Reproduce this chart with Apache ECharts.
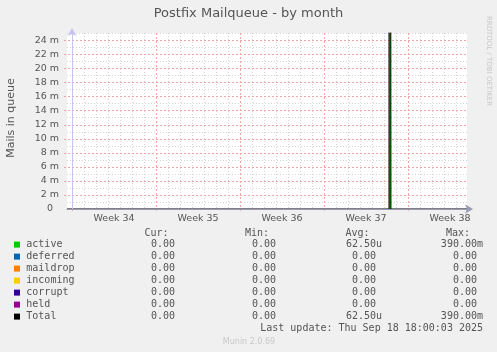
<!DOCTYPE html>
<html><head><meta charset="utf-8">
<script src="https://cdn.jsdelivr.net/npm/echarts@6/dist/echarts.min.js"></script>
<style>html,body{margin:0;padding:0;background:#f0f0f0;}#c{width:497px;height:352px;}</style>
</head><body><div id="c"></div>
<script>
// ---- data ----
const weekLabels = ['Week 34', 'Week 35', 'Week 36', 'Week 37', 'Week 38'];
const weekStarts = [0, 7, 14, 21, 28];          // day offsets of week boundaries
const weekCenters = [3.5, 10.5, 17.5, 24.5, 31.5];
const dayLines = [1,2,3,4,5,6,8,9,10,11,12,13,15,16,17,18,19,20,22,23,24,25,26,27,29,30,31,32];
const xRange = [-0.42, 32.92];                  // days, relative to start of Week 34
const yMajor = [0, 0.002, 0.004, 0.006, 0.008, 0.010, 0.012, 0.014, 0.016, 0.018, 0.020, 0.022, 0.024];
const yMinor = [0.001, 0.003, 0.005, 0.007, 0.009, 0.011, 0.013, 0.015, 0.017, 0.019, 0.021, 0.023, 0.025];
const yRange = [0, 0.025];

const activeData   = [[-0.42, 0], [26.42, 0.39], [26.58, 0], [32.92, 0]];
const deferredData = [[-0.42, 0], [32.92, 0]];
const maildropData = [[-0.42, 0], [32.92, 0]];
const incomingData = [[-0.42, 0], [32.92, 0]];
const corruptData  = [[-0.42, 0], [32.92, 0]];
const heldData     = [[-0.42, 0], [32.92, 0]];
const totalData    = [[-0.42, 0], [26.42, 0.39], [26.58, 0], [32.92, 0]];

const legendNames  = ['active', 'deferred', 'maildrop', 'incoming', 'corrupt', 'held', 'Total'];
const legendColors = ['#00cc00', '#0066b3', '#ff8000', '#ffcc00', '#330099', '#990099', '#000000'];
const curValues = ['0.00 ', '0.00 ', '0.00 ', '0.00 ', '0.00 ', '0.00 ', '0.00 '];
const minValues = ['0.00 ', '0.00 ', '0.00 ', '0.00 ', '0.00 ', '0.00 ', '0.00 '];
const avgValues = ['62.50u', '0.00 ', '0.00 ', '0.00 ', '0.00 ', '0.00 ', '62.50u'];
const maxValues = ['390.00m', '0.00 ', '0.00 ', '0.00 ', '0.00 ', '0.00 ', '390.00m'];
const colHeaders = ['Cur:', 'Min:', 'Avg:', 'Max:'];
const lastUpdate = 'Last update: Thu Sep 18 18:00:03 2025';

// ---- chart ----
const chart = echarts.init(document.getElementById('c'), null, {renderer: 'canvas'});
const SANS = 'DejaVu Sans';
const MONO = 'DejaVu Sans Mono';
const TXT = '#555555';
const GRAY_GRID = '#d4d4d4';
const RED_GRID = '#f2a6a6';

// grid line items: [value, kind] kind 0 = minor (gray dotted), 1 = major (red dashed)
const vGrid = dayLines.map(d => [d, 0]).concat(weekStarts.map(d => [d, 1]));
const hGrid = yMinor.map(v => [v, 0]).concat(yMajor.slice(1).map(v => [v, 1]));

function vGridSeries() {
  return {
    type: 'custom', silent: true, z: 1, clip: false, data: vGrid,
    encode: {x: 0},
    renderItem: function (params, api) {
      const v = api.value(0), kind = api.value(1);
      const b = api.coord([v, yRange[0]]), t = api.coord([v, yRange[1]]);
      const x = Math.round(b[0]) + 0.5;
      return {type: 'line', silent: true,
        shape: {x1: x, y1: Math.round(t[1]), x2: x, y2: Math.round(b[1]) + (kind ? 3 : 0)},
        style: {stroke: kind ? RED_GRID : GRAY_GRID, lineWidth: 1, lineDash: kind ? [2, 2] : [1, 2]}};
    }
  };
}
function hGridSeries() {
  return {
    type: 'custom', silent: true, z: 1, clip: false, data: hGrid.map(h => [xRange[0], h[0], h[1]]),
    encode: {x: 0, y: 1},
    renderItem: function (params, api) {
      const v = api.value(1), kind = api.value(2);
      const l = api.coord([xRange[0], v]), r = api.coord([xRange[1], v]);
      const y = Math.round(l[1]) + 0.5;
      return {type: 'line', silent: true,
        shape: {x1: Math.round(l[0]) - (kind ? 3 : 0), y1: y, x2: Math.round(r[0]), y2: y},
        style: {stroke: kind ? RED_GRID : GRAY_GRID, lineWidth: 1, lineDash: kind ? [2, 2] : [1, 2]}};
    }
  };
}

function lineSeries(name, data, color, area) {
  const s = {
    name: name, type: 'line', data: data, step: 'end', showSymbol: false, symbol: 'none',
    stack: area ? 'q' : undefined, clip: true, z: area ? 2 : 3,
    lineStyle: {color: color, width: area ? 0 : 1}, itemStyle: {color: color}
  };
  if (area) s.areaStyle = {color: color, opacity: 1};
  return s;
}

const graphics = [];
graphics.push({type: 'text', left: 'center', top: 7, style: {text: 'Postfix Mailqueue - by month', font: '13px ' + SANS, fill: TXT}});
graphics.push({type: 'text', x: 11, y: 118, rotation: Math.PI / 2, style: {text: 'Mails in queue', font: '11px ' + SANS, fill: TXT, align: 'center', verticalAlign: 'middle'}});
graphics.push({type: 'text', x: 489, y: 61, rotation: -Math.PI / 2, style: {text: 'RRDTOOL / TOBI OETIKER', font: '7px ' + SANS, fill: '#c8c8c8', align: 'center', verticalAlign: 'middle'}});
const headerRight = [168.5, 269, 369.5, 470];
colHeaders.forEach((h, i) => graphics.push({type: 'text', x: headerRight[i], y: 233, style: {text: h, font: '10px ' + MONO, fill: TXT, align: 'right', verticalAlign: 'middle'}}));
const colRight = [181, 282, 382, 483];
legendNames.forEach((n, i) => {
  const y = 244.6 + i * 12;
  graphics.push({type: 'rect', shape: {x: 14, y: y - 3, width: 6, height: 6}, style: {fill: legendColors[i]}});
  graphics.push({type: 'text', x: 26.3, y: y, style: {text: n, font: '10px ' + MONO, fill: TXT, align: 'left', verticalAlign: 'middle'}});
  [curValues, minValues, avgValues, maxValues].forEach((arr, j) => {
    graphics.push({type: 'text', x: colRight[j], y: y, style: {text: arr[i], font: '10px ' + MONO, fill: TXT, align: 'right', verticalAlign: 'middle'}});
  });
});
graphics.push({type: 'text', x: 483, y: 328.5, style: {text: lastUpdate, font: '10px ' + MONO, fill: TXT, align: 'right', verticalAlign: 'middle'}});
graphics.push({type: 'text', x: 249, y: 341.5, style: {text: 'Munin 2.0.69', font: '8px ' + SANS, fill: '#c8c8c8', align: 'center', verticalAlign: 'middle'}});

const option = {
  animation: false,
  backgroundColor: '#f0f0f0',
  grid: {left: 67, right: 30, top: 33, height: 176, backgroundColor: '#ffffff', show: true, borderWidth: 0},
  xAxis: {
    type: 'value', min: xRange[0], max: xRange[1], z: 5,
    axisLine: {show: true, lineStyle: {color: '#9a9ab4', width: 1}, symbol: ['none', 'arrow'], symbolSize: [7, 8], symbolOffset: [0, 6]},
    axisTick: {show: false},
    axisLabel: {customValues: weekCenters, margin: 5, fontFamily: SANS, fontSize: 9.5, color: TXT,
      formatter: function (v) { const i = weekCenters.indexOf(v); return i >= 0 ? weekLabels[i] : ''; }},
    splitLine: {show: false}
  },
  yAxis: {
    type: 'value', min: yRange[0], max: yRange[1], z: 5,
    axisLine: {show: true, lineStyle: {color: '#c4c4ee', width: 1}, symbol: ['none', 'arrow'], symbolSize: [7, 8], symbolOffset: [0, 5]},
    axisTick: {show: false},
    axisLabel: {customValues: yMajor, margin: 8, fontFamily: SANS, fontSize: 9.5, color: TXT,
      formatter: function (v) { const m = Math.round(v * 1000); return m === 0 ? '0  ' : m + ' m'; }},
    splitLine: {show: false}
  },
  series: [
    vGridSeries(),
    hGridSeries(),
    lineSeries('active', activeData, legendColors[0], true),
    lineSeries('deferred', deferredData, legendColors[1], true),
    lineSeries('maildrop', maildropData, legendColors[2], true),
    lineSeries('incoming', incomingData, legendColors[3], true),
    lineSeries('corrupt', corruptData, legendColors[4], true),
    lineSeries('held', heldData, legendColors[5], true),
    lineSeries('Total', totalData, legendColors[6], false)
  ],
  graphic: graphics
};
chart.setOption(option);
</script></body></html>
